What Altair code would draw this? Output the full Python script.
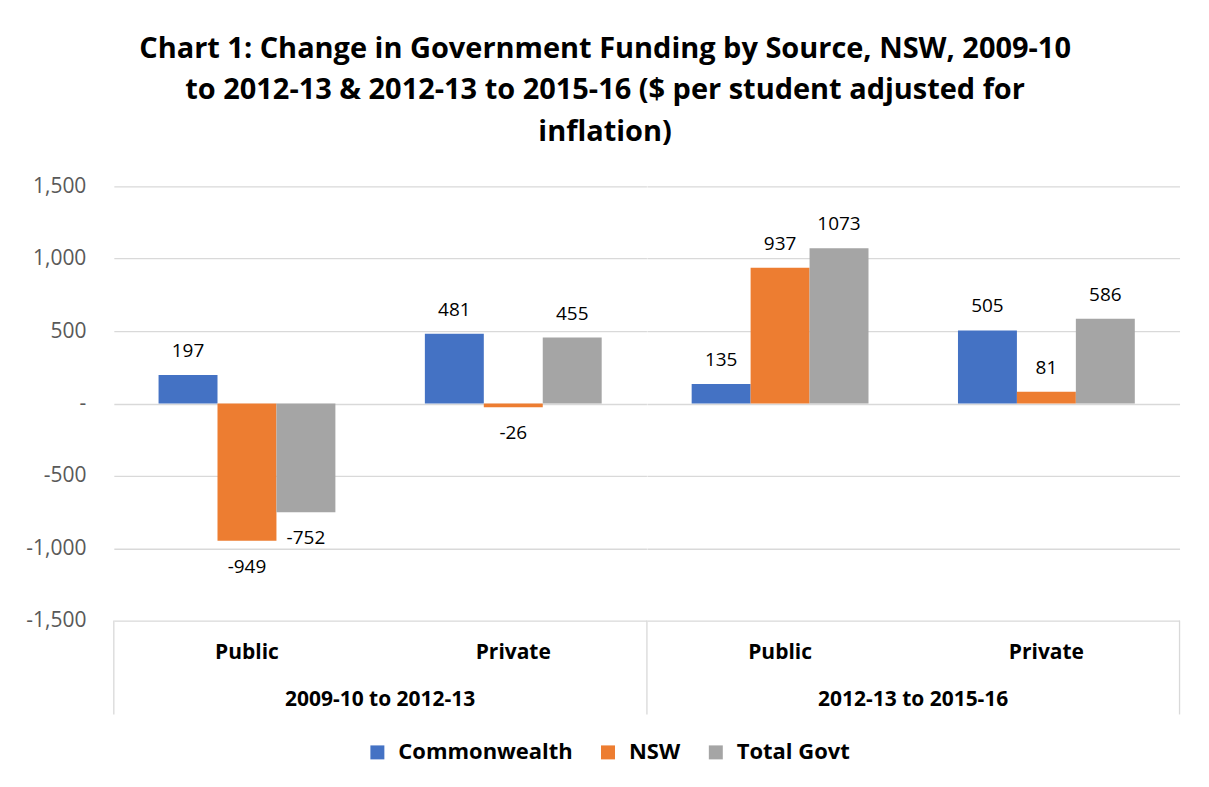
import altair as alt
import pandas as pd

periods = ["2009-10 to 2012-13", "2012-13 to 2015-16"]
sectors = ["Public", "Private"]
series = ["Commonwealth", "NSW", "Total Govt"]
colors = ["#4472C4", "#ED7D31", "#A5A5A5"]

# values per (period, sector) in series order
commonwealth = [197, 481, 135, 505]
nsw = [-949, -26, 937, 81]
total_govt = [-752, 455, 1073, 586]

rows = []
keys = [(p, s) for p in periods for s in sectors]
for i, (p, s) in enumerate(keys):
    for name, vals in zip(series, [commonwealth, nsw, total_govt]):
        rows.append({"period": p, "sector": s, "series": name, "value": vals[i]})
df = pd.DataFrame(rows)

FONT = "Open Sans"
H = 435
W = 533.5
LINE = "#D9D9D9"

x_enc = alt.X(
    "sector:N",
    sort=sectors,
    scale=alt.Scale(paddingInner=0.336, paddingOuter=0.168),
    axis=alt.Axis(
        title=None, labelAngle=0, domain=False, ticks=False, tickSize=0,
        labelFontWeight="bold", labelFontSize=21, labelColor="#000000",
        labelPadding=21, labelFont=FONT,
    ),
)
xo_enc = alt.XOffset("series:N", sort=series, scale=alt.Scale(paddingInner=0))
y_scale = alt.Scale(domain=[-1500, 1500], nice=False)

bars = alt.Chart().mark_bar().encode(
    x=x_enc,
    xOffset=xo_enc,
    y=alt.Y(
        "value:Q",
        scale=y_scale,
        axis=alt.Axis(
            title=None, values=[-1500, -1000, -500, 0, 500, 1000, 1500],
            labelExpr="datum.value == 0 ? '-' : replace(format(datum.value, ','), '\u2212', '-')",
            domain=False, ticks=False, labelPadding=28,
            labelFontSize=21, labelColor="#595959", labelFont=FONT,
            gridColor=LINE, gridWidth=1.3,
            minExtent=100, maxExtent=100,
        ),
    ),
    color=alt.Color(
        "series:N",
        sort=series,
        scale=alt.Scale(domain=series, range=colors),
        legend=alt.Legend(
            title=None, orient="none", direction="horizontal",
            legendX=253, legendY=556,
            symbolType="square", symbolSize=196, symbolStrokeWidth=0,
            labelFontSize=22, labelFontWeight="bold", labelColor="#000000",
            labelFont=FONT, columnPadding=24, symbolOffset=0, labelOffset=10,
            labelLimit=400,
        ),
    ),
)

label_base = alt.Chart().transform_calculate(label="toString(datum.value)")

pos_labels = label_base.transform_filter("datum.value >= 0").mark_text(
    baseline="middle", dy=-24, fontSize=19, font=FONT, color="#000000"
).encode(x=x_enc, xOffset=xo_enc, y=alt.Y("value:Q", scale=y_scale), text="label:N")

neg_labels = label_base.transform_filter("datum.value < 0").mark_text(
    baseline="middle", dy=26, fontSize=19, font=FONT, color="#000000"
).encode(x=x_enc, xOffset=xo_enc, y=alt.Y("value:Q", scale=y_scale), text="label:N")

sep_left = alt.Chart().transform_aggregate(n="count()").mark_rect(
    color=LINE
).encode(
    x=alt.value(-0.65), x2=alt.value(0.65),
    y=alt.value(H), y2=alt.value(H + 94),
)

sep_right = alt.Chart().transform_filter(
    alt.datum.period == periods[-1]
).transform_aggregate(n="count()").mark_rect(
    color=LINE
).encode(
    x=alt.value(W - 0.65), x2=alt.value(W + 0.65),
    y=alt.value(H), y2=alt.value(H + 94),
)

layer = alt.layer(bars, pos_labels, neg_labels, sep_left, sep_right).properties(
    width=W, height=H
)

chart = layer.facet(
    data=df,
    column=alt.Column(
        "period:N",
        sort=periods,
        title=None,
        header=alt.Header(
            labelOrient="bottom", labelFontSize=21, labelFontWeight="bold",
            labelColor="#000000", labelFont=FONT, labelPadding=27,
        ),
    ),
    spacing=0,
    bounds="flush",
).properties(
    title=alt.TitleParams(
        text=[
            "Chart 1: Change in Government Funding by Source, NSW, 2009-10",
            "to 2012-13 & 2012-13 to 2015-16 ($ per student adjusted for",
            "inflation)",
        ],
        fontSize=29, fontWeight="bold", font=FONT, color="#000000",
        lineHeight=42, anchor="middle", frame="bounds", offset=28, dx=8,
    ),
    padding={"left": 6, "top": 26, "right": 20, "bottom": 10},
).configure(
    font=FONT, background="white", view=alt.ViewConfig(stroke=None)
)

chart.save("out.html", embed_options={"renderer": "svg", "actions": False})
